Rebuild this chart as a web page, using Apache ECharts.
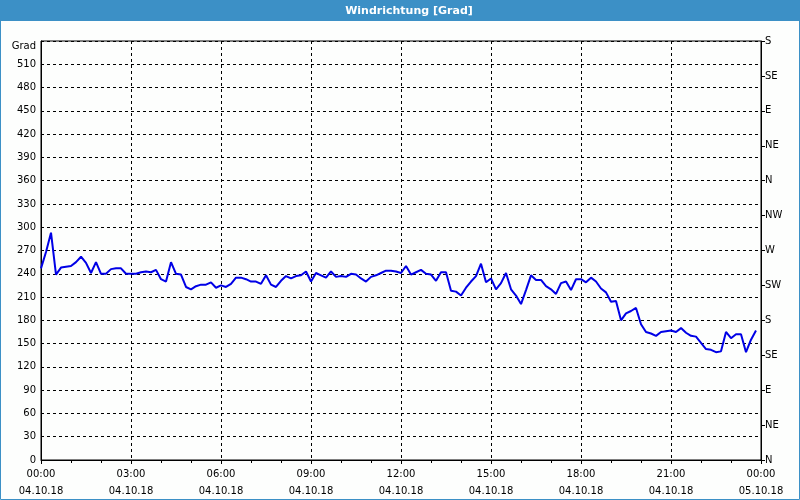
<!DOCTYPE html>
<html>
<head>
<meta charset="utf-8">
<script src="https://cdn.jsdelivr.net/npm/echarts@6/dist/echarts.min.js"></script>
<style>
html,body{margin:0;padding:0;background:#fdfefd;}
#c{width:800px;height:500px;}
</style>
</head>
<body>
<div id="c"></div>
<script>
// Wind direction values (degrees), one every 10 minutes from 04.10.18 00:00 to 23:50
const windDir = [
 247,268,293,239,248,249,250,255,262,254,241,255,240,240,246,247,247,240,240,240,242,243,242,245,
 233,230,255,240,239,223,220,224,226,226,229,222,225,223,227,235,235,233,230,230,227,238,226,223,
 231,237,234,237,238,243,230,241,238,235,243,236,237,236,240,239,234,230,236,238,241,244,244,243,
 241,250,239,242,245,240,239,231,242,242,218,217,212,222,230,237,253,229,234,220,228,241,220,212,
 201,219,238,232,232,224,220,214,228,230,219,233,233,229,235,230,221,216,204,205,180,189,192,196,
 175,165,163,160,165,166,167,165,170,164,160,159,151,143,142,139,140,165,157,162,162,139,155,167
];
// minutes since 04.10.18 00:00 for each sample
const minutes = windDir.map((_, i) => i * 10);
const xTickLabels = ['00:00\n04.10.18','03:00\n04.10.18','06:00\n04.10.18','09:00\n04.10.18',
  '12:00\n04.10.18','15:00\n04.10.18','18:00\n04.10.18','21:00\n04.10.18','00:00\n05.10.18'];
const compassLabels = ['N','NE','E','SE','S','SW','W','NW','N','NE','E','SE','S'];
const titleText = 'Windrichtung [Grad]';
const unitLabel = 'Grad';

const FONT = 'DejaVu Sans';
const chart = echarts.init(document.getElementById('c'), null, {renderer:'canvas'});
const dash = {color:'#000', type:[3,3], width:1};
chart.setOption({
  backgroundColor:'#fdfefd',
  animation:false,
  graphic:[
    {type:'rect', shape:{x:0,y:0,width:800,height:21}, style:{fill:'#3c90c6'}, z:0},
    {type:'rect', shape:{x:0.5,y:0.5,width:799,height:499}, style:{fill:null, stroke:'#3c90c6', lineWidth:1}, z:0},
    {type:'text', x:409, y:11, style:{text:titleText, fill:'#fff', font:'bold 11px "DejaVu Sans"', textAlign:'center', textVerticalAlign:'middle'}, z:5}
  ],
  grid:{left:41, right:39, top:41, bottom:39, show:true, borderColor:'#000', borderWidth:1, backgroundColor:'transparent'},
  xAxis:{
    type:'value', min:0, max:1440, interval:180,
    axisLine:{show:true, lineStyle:{color:'#000', width:1}},
    axisTick:{show:true, length:4, lineStyle:{color:'#000'}},
    minorTick:{show:true, splitNumber:3, length:3, lineStyle:{color:'#000'}},
    splitLine:{show:true, lineStyle:dash},
    axisLabel:{color:'#000', fontFamily:FONT, fontSize:10, lineHeight:17, margin:6,
      formatter:v => xTickLabels[Math.round(v/180)]}
  },
  yAxis:[
    {
      type:'value', min:0, max:540, interval:30, position:'left',
      axisLine:{show:true, lineStyle:{color:'#000'}},
      axisTick:{show:false},
      splitLine:{show:true, lineStyle:dash},
      axisLabel:{color:'#000', fontFamily:FONT, fontSize:10, margin:5,
        formatter:v => v === 540 ? '{g|' + unitLabel + '}' : String(v),
        rich:{g:{color:'#000', fontFamily:FONT, fontSize:10, padding:[10,0,0,0]}}}
    },
    {
      type:'value', min:0, max:540, interval:45, position:'right',
      axisLine:{show:true, lineStyle:{color:'#000'}},
      axisTick:{show:true, length:4, lineStyle:{color:'#000'}},
      splitLine:{show:false},
      axisLabel:{color:'#000', fontFamily:FONT, fontSize:10, margin:4,
        formatter:v => compassLabels[Math.round(v/45)]}
    }
  ],
  series:[{
    type:'line', yAxisIndex:0, showSymbol:false,
    lineStyle:{color:'#0000e6', width:2},
    data: minutes.map((m, i) => [m, windDir[i]])
  }]
});
</script>
</body>
</html>
